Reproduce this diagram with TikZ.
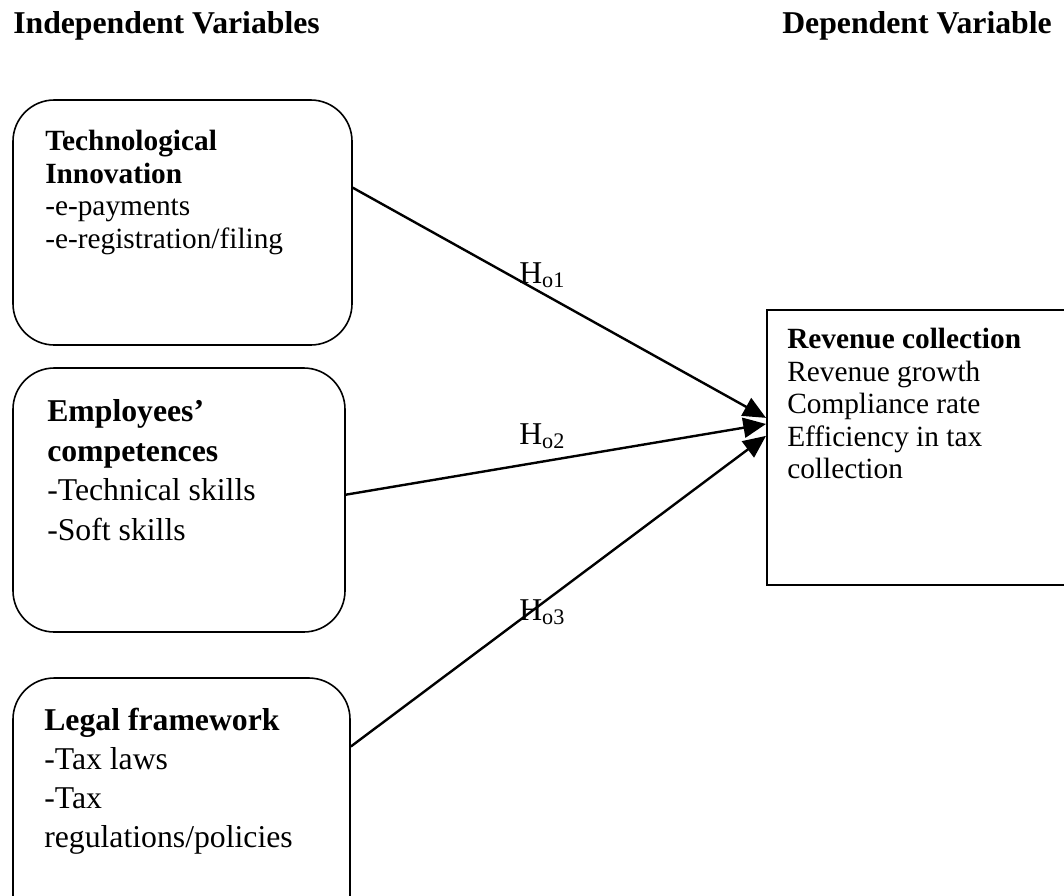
\documentclass[tikz,border=0pt]{standalone}
\usepackage{fontspec}
\setmainfont{Liberation Serif}
\usetikzlibrary{arrows.meta,fit,calc}
\begin{document}
\begin{tikzpicture}[x=0.75pt,y=-0.75pt,
  rbox/.style={draw, line width=1.2pt, rounded corners=31pt, inner sep=0pt},
  sbox/.style={draw, line width=1.5pt, inner sep=0pt},
  txt/.style={anchor=north west, inner sep=0pt, align=left},
  hdr/.style={anchor=base west, inner sep=0pt, font=\fontsize{23.8}{28}\selectfont\bfseries},
  hlab/.style={anchor=base west, inner sep=0pt, font=\fontsize{23.8}{28}\selectfont},
  link/.style={line width=1.8pt, -{Triangle[length=17pt,width=15pt]}}
]
\useasboundingbox (0,0) rectangle (1064,896);
\clip (0,0) rectangle (1064,896);

% headers
\node[hdr] (hind) at (13,33) {Independent Variables};
\node[hdr] (hdep) at (782,33) {Dependent Variable};

% boxes
\node[rbox, fit={(13,100) (352,345)}] (tech) {};
\node[rbox, fit={(13,368) (345,632)}] (emp) {};
\node[rbox, fit={(13,678) (350,940)}] (legal) {};
\node[sbox, fit={(767,310) (1110,585)}] (rev) {};

% box texts
\node[txt, font=\fontsize{22}{24.5}\selectfont] (techT) at (45,130)
  {\textbf{Technological}\\\textbf{Innovation}\\-e-payments\\-e-registration/filing};
\node[txt, font=\fontsize{23.8}{29.8}\selectfont] (empT) at (47,399)
  {\textbf{Employees’}\\\textbf{competences}\\-Technical skills\\-Soft skills};
\node[txt, font=\fontsize{23.8}{29.2}\selectfont] (legalT) at (44,708)
  {\textbf{Legal framework}\\-Tax laws\\-Tax\\regulations/policies};
\node[txt, font=\fontsize{22}{24.4}\selectfont] (revT) at (787,328)
  {\textbf{Revenue collection}\\Revenue growth\\Compliance rate\\Efficiency in tax\\collection};

% connector end points
\coordinate (s1) at ($(tech.north east)!0.359!(tech.south east)$);
\coordinate (s2) at ($(emp.north east)!0.48!(emp.south east)$);
\coordinate (s3) at ($(legal.north east)!0.263!(legal.south east)$);
\coordinate (e1) at ($(rev.north west)!0.393!(rev.south west)$);
\coordinate (e2) at ($(rev.north west)!0.415!(rev.south west)$);
\coordinate (e3) at ($(rev.north west)!0.458!(rev.south west)$);

\draw[link] (s1) -- (e1);
\draw[link] (s2) -- (e2);
\draw[link] (s3) -- (e3);

% hypothesis labels
\node[hlab] (h1) at (519,283) {H\textsubscript{o1}};
\node[hlab] (h2) at (519,444) {H\textsubscript{o2}};
\node[hlab] (h3) at (519,620) {H\textsubscript{o3}};
\end{tikzpicture}
\end{document}
